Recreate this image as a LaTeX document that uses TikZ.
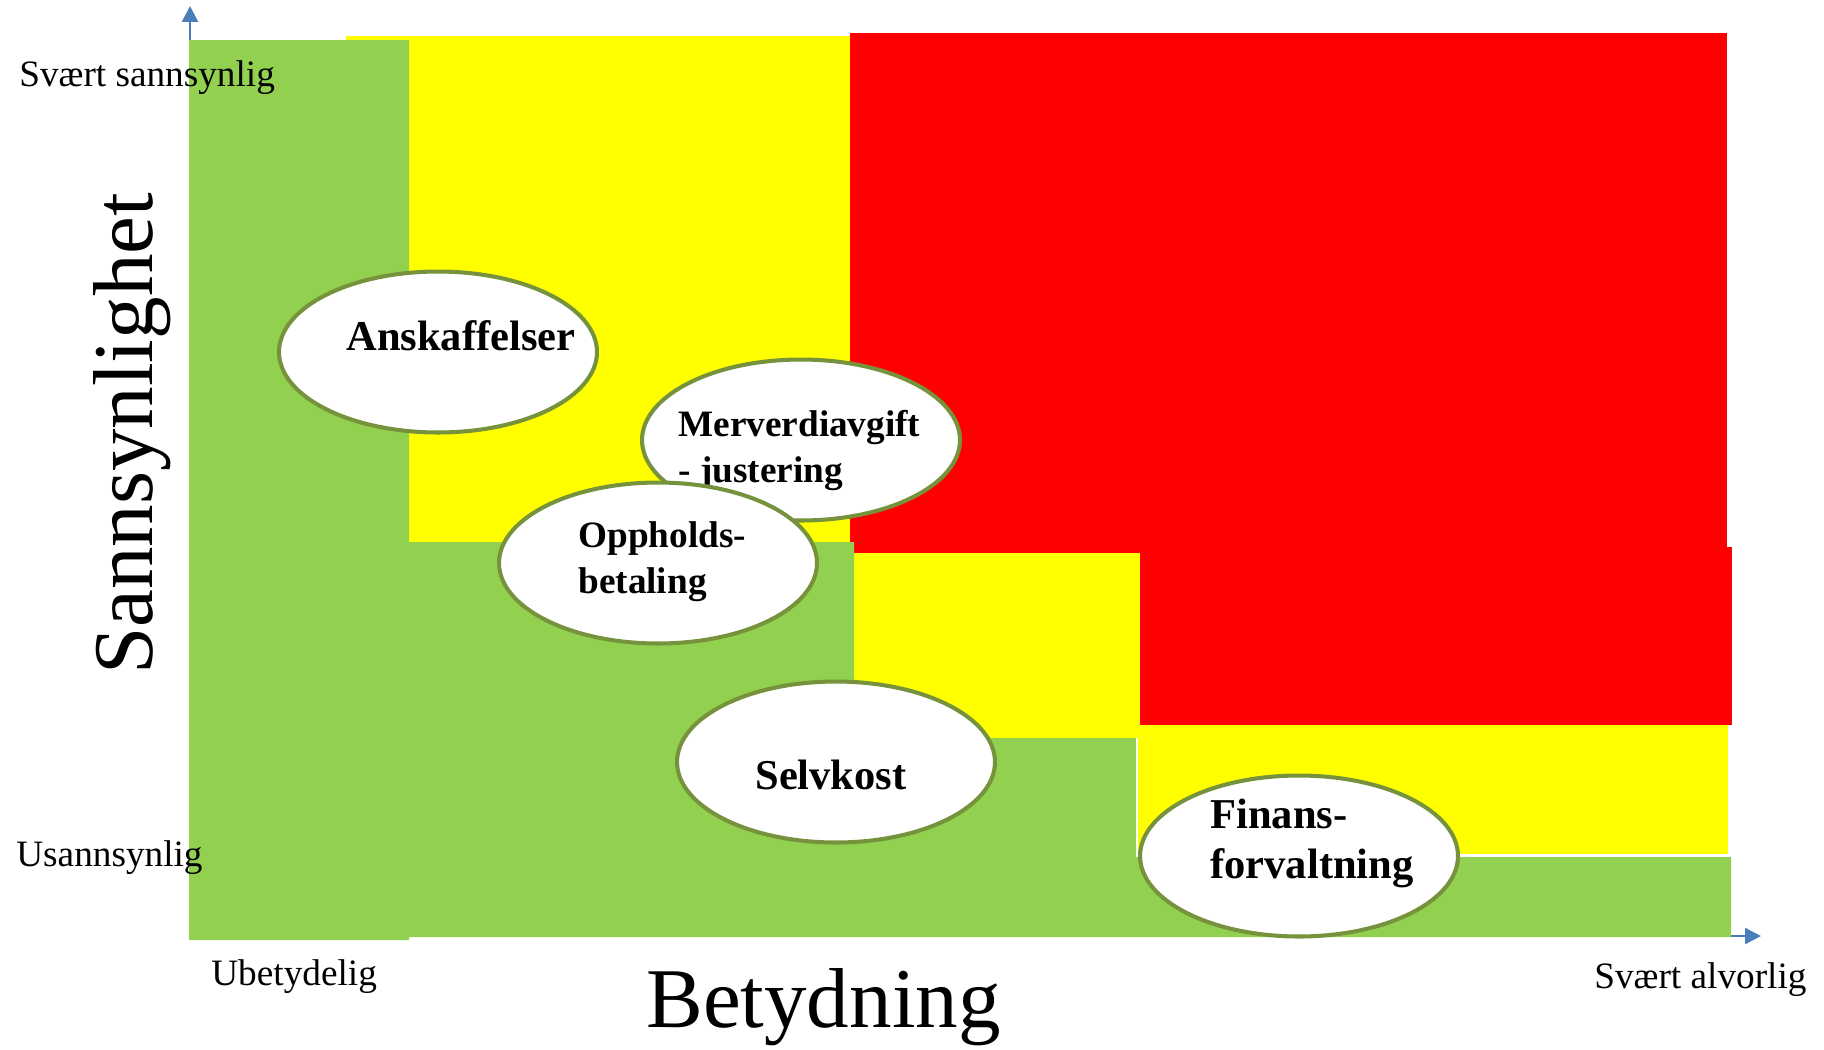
\documentclass[tikz,border=0pt]{standalone}
\usepackage{fontspec}
\setmainfont{Liberation Serif}
\usetikzlibrary{arrows.meta,shapes.geometric}
\definecolor{riskgreen}{HTML}{92D050}
\definecolor{riskyellow}{HTML}{FFFF00}
\definecolor{riskred}{HTML}{FF0000}
\definecolor{bubbleline}{HTML}{76923C}
\definecolor{axisblue}{HTML}{4A7EBB}

\begin{document}
\begin{tikzpicture}[x=0.02cm,y=-0.02cm,
  axisline/.style={draw=axisblue,line width=1.4pt,-{Triangle[length=9pt,width=9pt]}},
  bubble/.style={ellipse,draw=bubbleline,line width=2.3pt,fill=white,minimum width=6.36cm,minimum height=3.22cm,inner sep=0pt},
  bigbold/.style={font=\bfseries\fontsize{24.2}{28.4}\selectfont,align=left,inner sep=0pt,anchor=base west},
  smallbold/.style={font=\bfseries\fontsize{21.2}{26}\selectfont,align=left,inner sep=0pt,anchor=base west},
  scalelabel/.style={font=\fontsize{21.2}{25}\selectfont,inner sep=0pt,anchor=base west},
  axistitle/.style={font=\fontsize{48.4}{58}\selectfont,inner sep=0pt}]
\useasboundingbox (0,0) rectangle (1824,1049);
\coordinate (yfoot) at (190,940);
\coordinate (ytip) at (190,6);
\coordinate (xfoot) at (189,936);
\coordinate (xtip) at (1761,936);
\draw[axisline] (yfoot) -- (ytip);
\draw[axisline] (xfoot) -- (xtip);
\fill[riskyellow] (346,36) rectangle (850,542);
\fill[riskred] (850,33) rectangle (1727,553);
\fill[riskred] (1140,547) rectangle (1732,725);
\fill[riskyellow] (854,553) rectangle (1140,738);
\fill[riskyellow] (1138,725) rectangle (1728,854);
\fill[riskgreen] (189,40) -- (409,40) -- (409,542) -- (854,542) -- (854,738) -- (1136,738)
  -- (1136,857) -- (1731,857) -- (1731,937) -- (409,937) -- (409,940) -- (189,940) -- cycle;
% multi-line labels sit on the baseline of their last line
\node[bubble] (anskaffelser) at (438,352) {};
\node[bigbold] (anskaffelsertxt) at (346,350) {Anskaffelser};
\node[bubble] (merverdi) at (801,440) {};
\node[smallbold] (merverditxt) at (678,482) {Merverdiavgift\\- justering};
\node[bubble] (opphold) at (658,563) {};
\node[smallbold] (oppholdtxt) at (578,593) {Oppholds-\\betaling};
\node[bubble] (selvkost) at (836,762) {};
\node[bigbold] (selvkosttxt) at (755,789) {Selvkost};
\node[bubble] (finans) at (1299,856) {};
\node[bigbold] (finanstxt) at (1210,878) {Finans-\\forvaltning};
\node[scalelabel] (veryprob) at (19,86) {Svært sannsynlig};
\node[scalelabel] (unprob) at (16,866) {Usannsynlig};
\node[scalelabel] (minor) at (211,985) {Ubetydelig};
\node[scalelabel] (severe) at (1594,988) {Svært alvorlig};
\node[axistitle,anchor=base west] (xtitle) at (646,1027) {Betydning};
\node[axistitle,anchor=base,rotate=90] (ytitle) at (152,434) {Sannsynlighet};
\end{tikzpicture}
\end{document}
